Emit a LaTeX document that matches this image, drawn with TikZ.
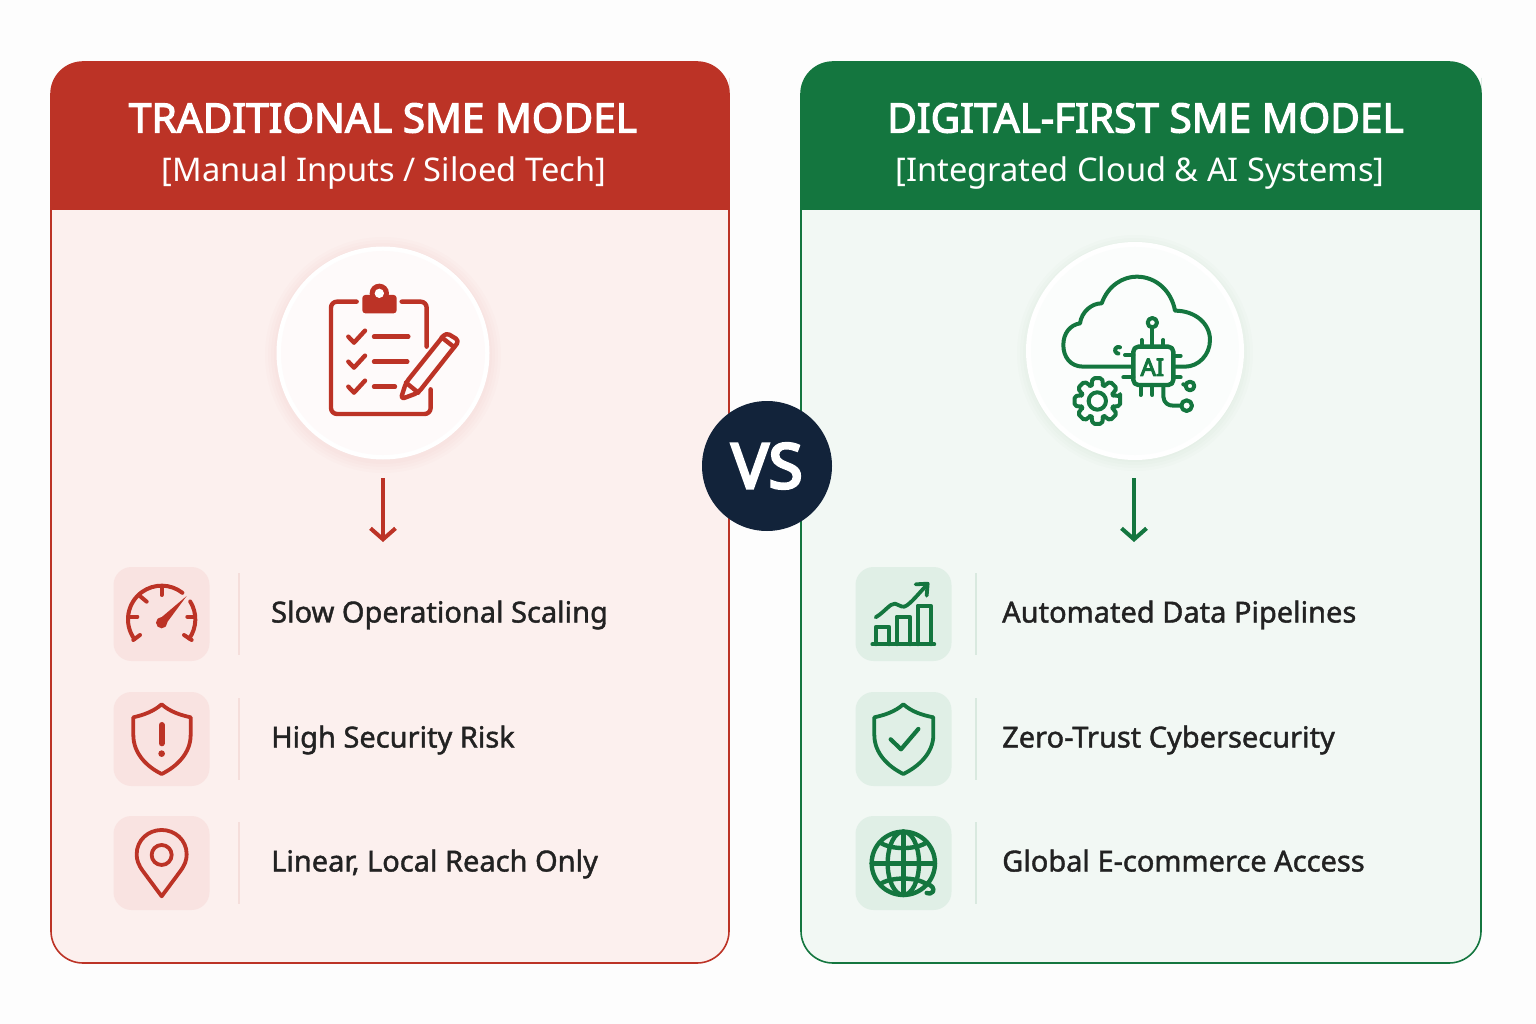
\documentclass[tikz,border=0pt]{standalone}
\usepackage{fontspec}
\usetikzlibrary{arrows.meta}
\setmainfont{Noto Sans}
\newfontfamily\medfont[FakeBold=1.4]{Noto Sans}
\newfontfamily\headfont[FakeBold=3.0]{Noto Sans}
\newfontfamily\heavyfont[FakeBold=4.5]{Noto Sans}
\definecolor{pagebg}{HTML}{FDFDFD}
\definecolor{tradred}{HTML}{BC3326}
\definecolor{tradfill}{HTML}{FCF0EE}
\definecolor{tradbox}{HTML}{F9E3E1}
\definecolor{tradline}{HTML}{F5DEDB}
\definecolor{digigreen}{HTML}{14763F}
\definecolor{digifill}{HTML}{F2F8F4}
\definecolor{digibox}{HTML}{E0EFE6}
\definecolor{digiline}{HTML}{D9E9DF}
\definecolor{vsnavy}{HTML}{12233A}
\definecolor{rowtext}{HTML}{222222}
\tikzset{
  panel/.style={draw=#1,line width=1.6pt,rounded corners=32pt,minimum width=678pt,minimum height=901pt,inner sep=0pt},
  heading/.style={text=white,font=\headfont\fontsize{40.6}{44}\selectfont,inner sep=0pt},
  subheading/.style={text=white,font=\fontsize{32.6}{38}\selectfont,inner sep=0pt},
  rowlabel/.style={anchor=base west,text=rowtext,font=\medfont\fontsize{29}{32}\selectfont,inner sep=0pt},
  iconbox/.style={fill=#1,rounded corners=18pt,minimum width=96pt,minimum height=94pt,inner sep=0pt},
  zoomed/.style={x=0.3333pt,y=-0.3333pt,line cap=round,line join=round},
  downarrow/.style={line width=3.8pt,-{Straight Barb[length=11pt,width=25pt,line width=4pt]}}
}
\begin{document}
\begin{tikzpicture}[x=1pt,y=-1pt]
  \useasboundingbox (0,0) rectangle (1536,1024);
  \fill[pagebg] (0,0) rectangle (1536,1024);

  % panels
  \node[panel=tradred,fill=tradfill] (tradpanel) at (390,512.5) {};
  \node[panel=digigreen,fill=digifill,minimum width=680pt] (digipanel) at (1141,512.5) {};
  \fill[tradred,rounded corners=32pt] (51,110) -- (51,62) -- (729,62) -- (729,110) [sharp corners] -- (729,210) -- (51,210) -- cycle;
  \fill[digigreen,rounded corners=32pt] (801,110) -- (801,62) -- (1481,62) -- (1481,110) [sharp corners] -- (1481,210) -- (801,210) -- cycle;
  \node[heading] (tradtitle) at (383,118) {TRADITIONAL SME MODEL};
  \node[subheading] (tradsub) at (384,173.5) {[Manual Inputs / Siloed Tech]};
  \node[heading] (digititle) at (1145.5,118) {DIGITAL-FIRST SME MODEL};
  \node[subheading] (digisub) at (1140,173.5) {[Integrated Cloud \& AI Systems]};

  % soft halo behind the big circles
  \foreach \r in {118,115,112,109}{
    \fill[tradred,opacity=0.012] (383,355) circle (\r);
    \fill[digigreen,opacity=0.012] (1135,353) circle (\r);
  }
  \node[circle,fill=white,minimum size=213pt,inner sep=0pt] (tradcircle) at (383,353) {};
  \fill[tradfill!30] (383,353) circle (102);
  \node[circle,fill=white,minimum size=218pt,inner sep=0pt] (digicircle) at (1135,351) {};
  \fill[digifill!30] (1135,351) circle (104);

  % arrows
  \coordinate (tradfrom) at (383,478);
  \coordinate (tradto) at (383,542);
  \coordinate (digifrom) at (1134,478);
  \coordinate (digito) at (1134,542);
  \draw[downarrow,tradred] (tradfrom) -- (tradto);
  \draw[downarrow,digigreen] (digifrom) -- (digito);

  % rows
  \foreach \y/\n/\t in {614/a/Slow Operational Scaling,739/b/High Security Risk,863/c/{Linear, Local Reach Only}}{
    \node[iconbox=tradbox] (tradbox\n) at (161.5,\y) {};
    \draw[tradline,line width=1.5pt] (239,\y-41) -- (239,\y+41);
    \node[rowlabel] (tradlabel\n) at (271,\y+8.5) {\t};
  }
  \foreach \y/\n/\t in {614/a/Automated Data Pipelines,739/b/Zero-Trust Cybersecurity,863/c/Global E-commerce Access}{
    \node[iconbox=digibox] (digibox\n) at (903.5,\y) {};
    \draw[digiline,line width=1.5pt] (976,\y-41) -- (976,\y+41);
    \node[rowlabel] (digilabel\n) at (1002,\y+8.5) {\t};
  }

  % clipboard
  \begin{scope}[shift={(270,240)},zoomed,tradred,line width=4.4pt]
    \draw[rounded corners=6pt] (260,185) -- (183,185) -- (183,522) -- (482,522) -- (482,448);
    \draw[rounded corners=6pt] (395,185) -- (470,185) -- (470,320);
    \fill[rounded corners=3pt] (277,165) rectangle (380,220);
    \fill (328,160) circle (29);
    \fill[white] (328,160) circle (14);
    \foreach \d in {0,75,150}{
      \draw (235,290+\d) -- (252,308+\d) -- (285,272+\d);
    }
    \draw (312,290) -- (415,290);
    \draw (312,365) -- (412,365);
    \draw (312,440) -- (375,440);
    \draw[rounded corners=4pt] (392,478) -- (408,428) -- (528,278) -- (568,302) -- (445,458) -- cycle;
    \draw (515,292) -- (553,322);
    \draw (408,428) -- (445,458);
  \end{scope}

  % cloud with chip
  \begin{scope}[shift={(1020,240)},zoomed,digigreen,line width=4pt]
    \draw (335,380) -- (190,380) .. controls (150,380) and (130,350) .. (130,315) .. controls (130,280) and (150,255) .. (180,250) .. controls (185,215) and (215,190) .. (245,190) .. controls (265,135) and (310,110) .. (350,110) .. controls (410,110) and (455,155) .. (465,212) .. controls (525,212) and (570,250) .. (570,300) .. controls (570,345) and (535,380) .. (495,380) -- (465,380);
    \draw[rounded corners=5pt,line width=4.4pt] (340,320) rectangle (460,435);
    \node[text=digigreen,font=\heavyfont\fontsize{24}{24}\selectfont,inner sep=0pt] (chiplabel) at (397,382) {AI};
    \draw (397,320) -- (397,262);
    \draw (397,248) circle (14);
    \draw (365,300) -- (365,320);
    \draw (430,300) -- (430,320);
    \draw (460,348) -- (482,348);
    \draw (460,412) -- (482,412);
    \draw (315,345) -- (340,345);
    \draw (310,412) -- (340,412);
    \draw (300,322) arc[start angle=300,end angle=90,radius=10];
    \draw (362,435) -- (362,465);
    \draw (397,435) -- (397,465);
    \draw (430,435) -- (430,470) .. controls (432,490) and (445,497) .. (460,497) -- (484,497);
    \draw (500,497) circle (16);
    \draw (510,438) circle (13);
    \draw (490,433) -- (497,436);
    \begin{scope}[shift={(232,483)}]
      \draw[rounded corners=2pt] (-12:70) \foreach \a in {0,45,...,315}{ -- (\a-12:70) -- (\a+12:70) -- (\a+20:50) -- (\a+25:50)} -- cycle;
      \draw (0,0) circle (26);
    \end{scope}
  \end{scope}

  % speedometer
  \begin{scope}[shift={(100,555)},zoomed,tradred,line width=4pt]
    \draw ([shift={(144:101)}]185,193) arc[start angle=144,end angle=308,radius=101];
    \draw ([shift={(328:101)}]185,193) arc[start angle=328,end angle=395,radius=101];
    \draw (92,185) -- (112,185);
    \draw (185,95) -- (185,120);
    \draw (122,125) -- (140,140);
    \draw (262,185) -- (285,185);
    \draw (100,255) -- (120,240);
    \draw (252,240) -- (275,255);
    \fill (176,194) -- (260,123) -- (194,212) -- cycle;
    \fill (185,203) circle (17);
  \end{scope}

  % alert shield
  \begin{scope}[shift={(100,555)},zoomed,tradred,line width=3.8pt]
    \draw (185,448) .. controls (160,470) and (130,480) .. (100,487) -- (100,540) .. controls (100,595) and (140,635) .. (185,657) .. controls (230,635) and (272,595) .. (272,540) -- (272,487) .. controls (240,480) and (210,470) .. (185,448) -- cycle;
    \draw[line width=6pt] (185,510) -- (185,565);
    \fill (185,596) circle (10);
  \end{scope}

  % map pin
  \begin{scope}[shift={(100,555)},zoomed,tradred,line width=3.8pt]
    \draw (185,1024) -- (130,950) .. controls (115,930) and (110,915) .. (110,898) .. controls (110,855) and (145,825) .. (185,825) .. controls (225,825) and (260,855) .. (260,898) .. controls (260,915) and (255,930) .. (240,950) -- cycle;
    \draw (185,900) circle (30);
  \end{scope}

  % bar chart
  \begin{scope}[shift={(845,555)},zoomed,digigreen,line width=3.8pt]
    \draw (82,268) -- (268,268);
    \draw (92,268) -- (92,216) -- (133,216) -- (133,268);
    \draw (155,268) -- (155,185) -- (195,185) -- (195,268);
    \draw (218,268) -- (218,152) -- (258,152) -- (258,268);
    \draw (92,187) .. controls (120,170) and (135,145) .. (150,146) .. controls (162,147) and (165,157) .. (178,155) .. controls (195,150) and (225,110) .. (246,90);
    \draw (212,88) -- (248,86) -- (245,122);
  \end{scope}

  % check shield
  \begin{scope}[shift={(845,555)},zoomed,digigreen,line width=3.8pt]
    \draw (175,448) .. controls (150,470) and (120,480) .. (88,487) -- (88,540) .. controls (88,595) and (130,635) .. (175,657) .. controls (220,635) and (265,595) .. (265,540) -- (265,487) .. controls (230,480) and (200,470) .. (175,448) -- cycle;
    \draw[line width=4.2pt] (137,553) -- (168,583) -- (220,522);
  \end{scope}

  % globe
  \begin{scope}[shift={(845,555)},zoomed,digigreen,line width=4.4pt]
    \draw (175,925) circle (95);
    \draw (175,925) ellipse (47 and 95);
    \draw (175,830) -- (175,1020);
    \draw (80,925) -- (270,925);
    \draw (105,862) .. controls (135,885) and (215,885) .. (245,862);
    \draw (105,988) .. controls (135,965) and (215,965) .. (245,988);
    \draw (240,985) .. controls (262,990) and (268,1000) .. (264,1010) .. controls (260,1018) and (250,1016) .. (245,1014);
  \end{scope}

  % badge
  \node[circle,fill=vsnavy,minimum size=130pt,inner sep=0pt,text=white,font=\heavyfont\fontsize{62}{62}\selectfont] (versus) at (767,466) {VS};
\end{tikzpicture}
\end{document}
